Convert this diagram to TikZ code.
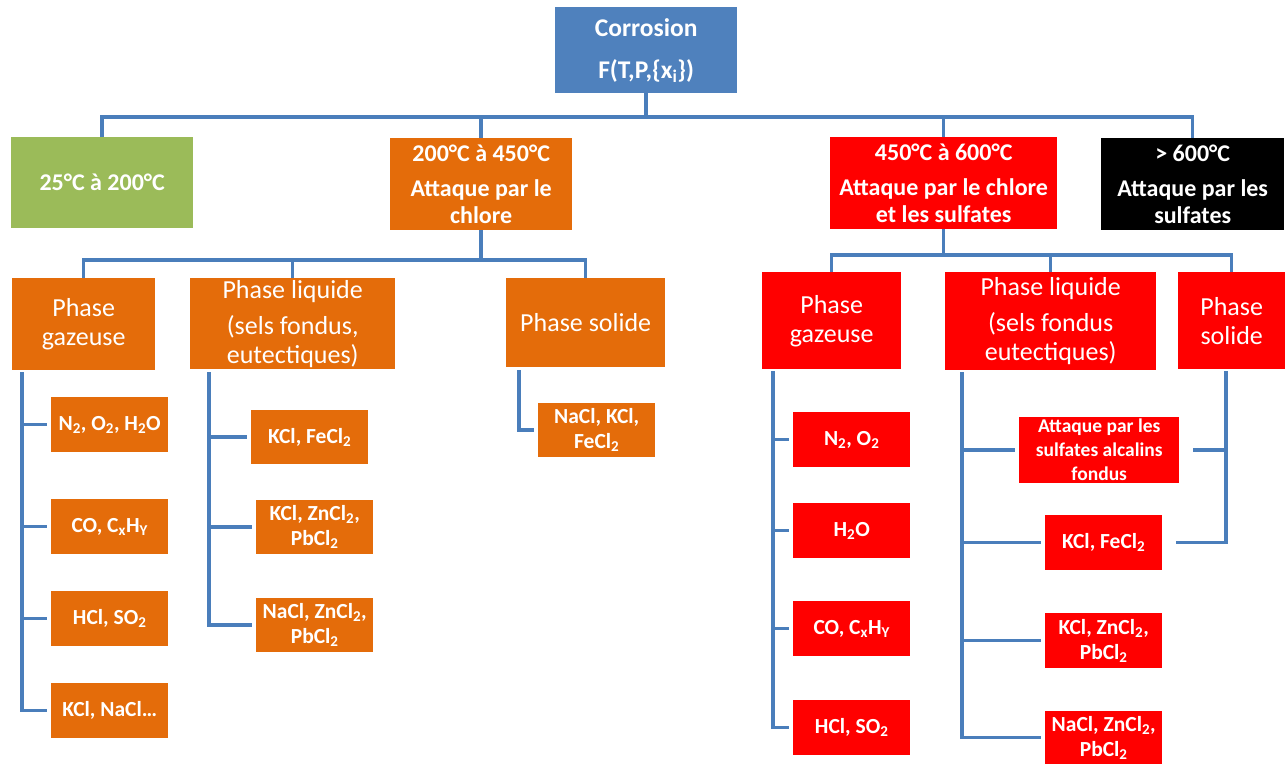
\documentclass[tikz,border=0pt]{standalone}
\usepackage{fontspec}
\setmainfont{Carlito}
\definecolor{cblue}{HTML}{4F81BD}
\definecolor{cgreen}{HTML}{9BBB59}
\definecolor{corange}{HTML}{E46C0A}
\definecolor{cred}{HTML}{FF0000}
\definecolor{lineblue}{HTML}{4A7EBB}
\newcommand\sub[1]{\textsubscript{#1}}
\begin{document}
\begin{tikzpicture}[x=1pt,y=-1pt,
  box/.style={inner sep=0pt, align=center, text=white, anchor=north west},
  topbox/.style={box, font=\fontsize{24}{27}\selectfont\bfseries},
  phasebox/.style={box, font=\fontsize{26}{29}\selectfont},
  itembox/.style={box, font=\fontsize{21.5}{25}\selectfont\bfseries, minimum width=117pt, minimum height=55pt},
  conn/.style={draw=lineblue, line width=3.5pt}]
\useasboundingbox[fill=white] (0,0) rectangle (1287,764);

% level 0
\node[box, fill=cblue, font=\fontsize{25.5}{29}\selectfont\bfseries, minimum width=182pt, minimum height=86pt] (corr) at (555,7) {Corrosion\\[13pt]F(T,P,\{x\sub{i}\})};

% level 1
\node[topbox, fill=cgreen, minimum width=182pt, minimum height=91pt] (t1) at (11,137) {25°C à 200°C};
\node[topbox, fill=corange, minimum width=182pt, minimum height=92pt] (t2) at (390,138) {200°C à 450°C\\[8pt]Attaque par le\\chlore};
\node[topbox, fill=cred, minimum width=227pt, minimum height=92pt] (t3) at (830,137) {450°C à 600°C\\[8pt]Attaque par le chlore\\et les sulfates};
\node[topbox, fill=black, minimum width=183pt, minimum height=92pt] (t4) at (1101,138) {> 600°C\\[8pt]Attaque par les\\sulfates};

% level 2 orange
\node[phasebox, fill=corange, minimum width=143pt, minimum height=92pt] (og) at (12,278) {Phase\\gazeuse};
\node[phasebox, fill=corange, minimum width=205pt, minimum height=91pt] (ol) at (190,278) {Phase liquide\\[7pt](sels fondus,\\eutectiques)};
\node[phasebox, fill=corange, minimum width=159pt, minimum height=89pt] (os) at (506,278) {Phase solide};

% level 2 red
\node[phasebox, fill=cred, minimum width=139pt, minimum height=97pt] (rg) at (762,272) {Phase\\gazeuse};
\node[phasebox, fill=cred, minimum width=211pt, minimum height=98pt] (rl) at (945,272) {Phase liquide\\[7pt](sels fondus\\eutectiques)};
\node[phasebox, fill=cred, minimum width=107pt, minimum height=97pt] (rs) at (1178,272) {Phase\\solide};

% orange gaz items
\node[itembox, fill=corange] (g1) at (51,397) {N\sub{2}, O\sub{2}, H\sub{2}O};
\node[itembox, fill=corange] (g2) at (51,499) {CO, C\sub{x}H\sub{Y}};
\node[itembox, fill=corange] (g3) at (51,591) {HCl, SO\sub{2}};
\node[itembox, fill=corange] (g4) at (51,683) {KCl, NaCl…};

% orange liquid items
\node[itembox, fill=corange, minimum height=54pt] (l1) at (251,410) {KCl, FeCl\sub{2}};
\node[itembox, fill=corange, minimum height=54pt] (l2) at (256,500) {KCl, ZnCl\sub{2},\\PbCl\sub{2}};
\node[itembox, fill=corange, minimum height=54pt] (l3) at (256,598) {NaCl, ZnCl\sub{2},\\PbCl\sub{2}};

% orange solid item
\node[itembox, fill=corange, minimum height=54pt] (s1) at (538,403) {NaCl, KCl,\\FeCl\sub{2}};

% red gaz items
\node[itembox, fill=cred] (rg1) at (793,412) {N\sub{2}, O\sub{2}};
\node[itembox, fill=cred] (rg2) at (793,503) {H\sub{2}O};
\node[itembox, fill=cred] (rg3) at (793,601) {CO, C\sub{x}H\sub{Y}};
\node[itembox, fill=cred] (rg4) at (793,700) {HCl, SO\sub{2}};

% red liquid items
\node[box, fill=cred, font=\fontsize{19.5}{24}\selectfont\bfseries, minimum width=160pt, minimum height=66pt] (rl1) at (1019,417) {Attaque par les\\sulfates alcalins\\fondus};
\node[itembox, fill=cred] (rl2) at (1045,515) {KCl, FeCl\sub{2}};
\node[itembox, fill=cred] (rl3) at (1045,613) {KCl, ZnCl\sub{2},\\PbCl\sub{2}};
\node[itembox, fill=cred, minimum height=53pt] (rl4) at (1045,711) {NaCl, ZnCl\sub{2},\\PbCl\sub{2}};

% connectors level 0 -> 1
\coordinate (bus1) at (0,117);
\draw[conn] (corr.south) -- (corr.south |- bus1);
\draw[conn] (t1.north) -- (t1.north |- bus1) -- (t4.north |- bus1) -- (t4.north);
\draw[conn] (t2.north) -- (t2.north |- bus1);
\draw[conn] (t3.north) -- (t3.north |- bus1);

% orange bus
\coordinate (bus2) at (0,260);
\draw[conn] (t2.south) -- (t2.south |- bus2);
\draw[conn] (og.north) -- (og.north |- bus2) -- (os.north |- bus2) -- (os.north);
\draw[conn] (ol.north) -- (ol.north |- bus2);

% red bus
\coordinate (bus3) at (0,255);
\draw[conn] (t3.south) -- (t3.south |- bus3);
\draw[conn] (rg.north) -- (rg.north |- bus3) -- (rs.north |- bus3) -- (rs.north);
\draw[conn] (rl.north) -- (rl.north |- bus3);

% trunks
\coordinate (ogT) at (22,372);
\coordinate (olT) at (209,372);
\coordinate (osT) at (519,370);
\coordinate (rgT) at (773,371);
\coordinate (rlT) at (962,372);
\coordinate (rsT) at (1226,371);

\foreach \c in {g1,g2,g3,g4} \draw[conn] (ogT) |- ([xshift=-4pt]\c.west);
\foreach \c in {l1,l2,l3} \draw[conn] (olT) |- ([xshift=-4pt]\c.west);
\draw[conn] (osT) |- ([xshift=-4pt]s1.west);
\foreach \c in {rg1,rg2,rg3,rg4} \draw[conn] (rgT) |- ([xshift=-4pt]\c.west);
\foreach \c in {rl1,rl2,rl3,rl4} \draw[conn] (rlT) |- ([xshift=-4pt]\c.west);
\draw[conn] (rsT) |- ([xshift=14pt]rl1.east);
\draw[conn] (rsT) |- ([xshift=14pt]rl2.east);
\end{tikzpicture}
\end{document}
